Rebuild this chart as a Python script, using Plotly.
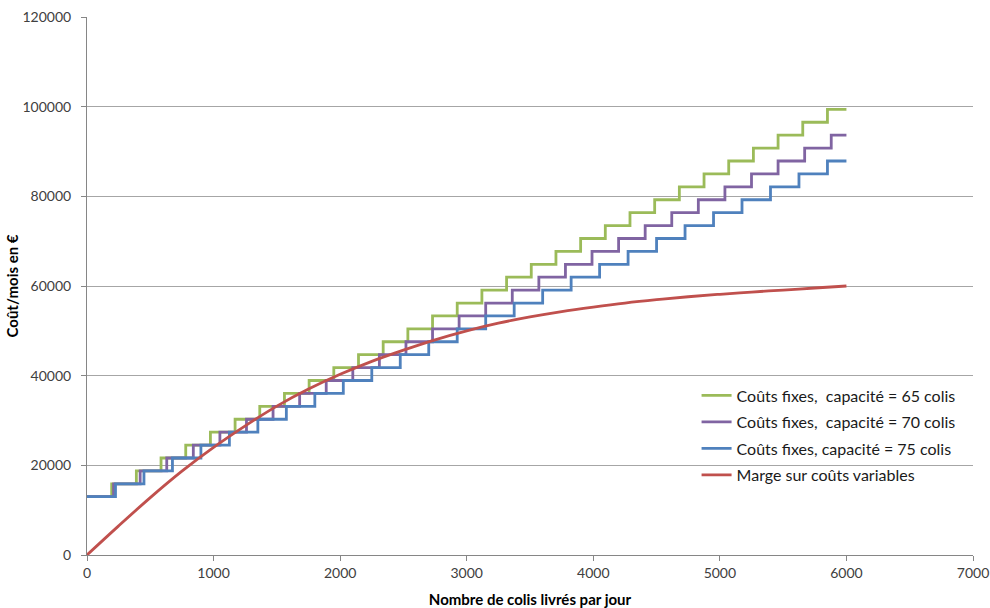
import plotly.graph_objects as go

# Step levels of monthly fixed costs (€) shared by the three capacities
LEVELS = [13000, 15880, 18760, 21640, 24520, 27400, 30280, 33160, 36040, 38920,
          41800, 44680, 47560, 50440, 53320, 56200, 59080, 61960, 64840, 67720,
          70600, 73480, 76360, 79240, 82120, 85000, 87880, 90760, 93640, 96520, 99400]

# Breakpoints (parcels/day) where another vehicle is needed
X_65 = [0, 195, 390, 585, 780, 975, 1170, 1365, 1560, 1755, 1950, 2145, 2340, 2535,
        2730, 2925, 3120, 3315, 3510, 3705, 3900, 4095, 4290, 4485, 4680, 4875,
        5070, 5265, 5460, 5655, 5850, 6000]
X_70 = [0, 210, 420, 630, 840, 1050, 1260, 1470, 1680, 1890, 2100, 2310, 2520, 2730,
        2940, 3150, 3360, 3570, 3780, 3990, 4200, 4410, 4620, 4830, 5040, 5250,
        5460, 5670, 5880, 6000]
X_75 = [0, 225, 450, 675, 900, 1125, 1350, 1575, 1800, 2025, 2250, 2475, 2700, 2925,
        3150, 3375, 3600, 3825, 4050, 4275, 4500, 4725, 4950, 5175, 5400, 5625,
        5850, 6000]
Y_65 = LEVELS[:len(X_65) - 1] + [LEVELS[len(X_65) - 2]]
Y_70 = LEVELS[:len(X_70) - 1] + [LEVELS[len(X_70) - 2]]
Y_75 = LEVELS[:len(X_75) - 1] + [LEVELS[len(X_75) - 2]]

# Contribution margin on variable costs
X_MARGE = [0, 250, 500, 750, 1000, 1250, 1500, 1750, 2000, 2250, 2500, 2750, 3000,
           3250, 3500, 3750, 4000, 4250, 4500, 4750, 5000, 5250, 5500, 5750, 6000]
Y_MARGE = [0, 6500, 12800, 18700, 24000, 28800, 33200, 37000, 40300, 43200, 45700,
           48000, 50000, 51700, 53100, 54300, 55300, 56200, 56950, 57600, 58150,
           58650, 59100, 59550, 60000]

NAMES = ["Coûts fixes,\u00a0 capacité = 65 colis",
         "Coûts fixes,\u00a0 capacité = 70 colis",
         "Coûts fixes, capacité = 75 colis",
         "Marge sur coûts variables"]
COLORS = ["#9BBB59", "#8064A2", "#4F81BD", "#C0504D"]

fig = go.Figure()
for i, (xs, ys) in enumerate([(X_65, Y_65), (X_70, Y_70), (X_75, Y_75)]):
    fig.add_trace(go.Scatter(x=xs, y=ys, mode="lines", name=NAMES[i],
                             legendgroup=f"g{i}",
                             line=dict(color=COLORS[i], width=2.8, shape="hv")))
fig.add_trace(go.Scatter(x=X_MARGE, y=Y_MARGE, mode="lines", name=NAMES[3],
                         legendgroup="g3",
                         line=dict(color=COLORS[3], width=2.8, shape="spline")))

FONT = "Lato, Carlito, Calibri, sans-serif"
fig.update_layout(
    width=990, height=608,
    margin=dict(l=87, r=17, t=17, b=53),
    paper_bgcolor="white", plot_bgcolor="white",
    font=dict(family=FONT, size=14, color="#404040"),
    showlegend=True,
    legend=dict(x=0.688, y=0.328, xanchor="left", yanchor="top",
                bgcolor="rgba(0,0,0,0)", borderwidth=0,
                font=dict(family=FONT, size=16, color="#1a1a1a"),
                tracegroupgap=2.7),
    xaxis=dict(range=[0, 7000], dtick=1000, tick0=0, automargin=False,
               showgrid=False, zeroline=False,
               showline=True, linecolor="#868686", linewidth=1,
               ticks="outside", ticklen=5, tickcolor="#868686",
               tickfont=dict(family=FONT, size=14, color="#404040"),
               title=dict(text="<b>Nombre de colis livrés par jour</b>",
                          font=dict(family=FONT, size=15, color="#000000"),
                          standoff=15)),
    yaxis=dict(range=[0, 120000], dtick=20000, tick0=0, automargin=False,
               showgrid=True, gridcolor="#A6A6A6", gridwidth=1,
               zeroline=False,
               showline=True, linecolor="#868686", linewidth=1,
               ticks="outside", ticklen=5, tickcolor="#868686",
               ticklabelstandoff=7,
               tickformat="d",
               tickfont=dict(family=FONT, size=14, color="#404040"),
               title=dict(text="<b>Coût/mois en €</b>",
                          font=dict(family=FONT, size=15, color="#000000"),
                          standoff=0)),
)

fig.write_html("out.html", config={"displayModeBar": False},
               post_script="document.body.style.margin='0px';")
